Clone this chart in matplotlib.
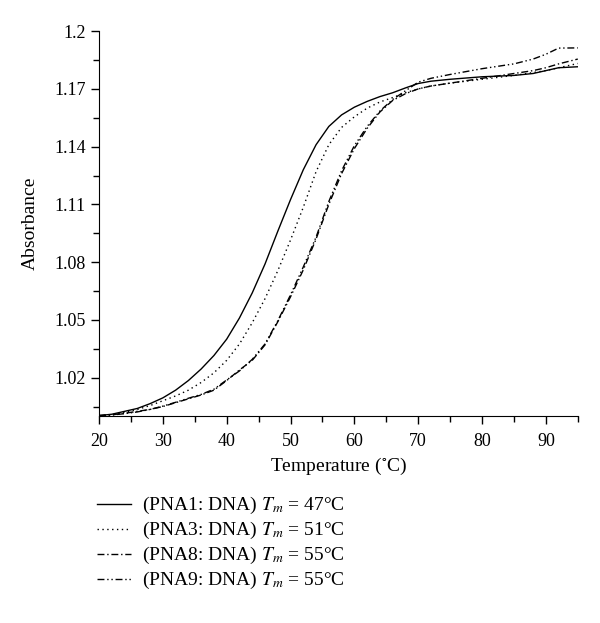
import matplotlib.pyplot as plt
from matplotlib.ticker import MultipleLocator

plt.rcParams['font.family'] = ['Liberation Serif', 'DejaVu Serif']
plt.rcParams['mathtext.fontset'] = 'stix'

# Melting curves
temp = [20, 22, 24, 26, 28, 30, 32, 34, 36, 38, 40, 42, 44, 46, 48, 50, 52, 54,
        56, 58, 60, 62, 64, 66, 68, 70, 72, 75, 80, 85, 88, 90, 92, 95]

pna1 = [1.0003, 1.0010, 1.0025, 1.0040, 1.0065, 1.0095, 1.0135, 1.0185, 1.0245,
        1.0315, 1.0400, 1.0510, 1.0640, 1.0790, 1.0960, 1.1125, 1.1280, 1.1410,
        1.1505, 1.1565, 1.1605, 1.1635, 1.1660, 1.1680, 1.1705, 1.1728, 1.1740,
        1.1750, 1.1763, 1.1770, 1.1780, 1.1795, 1.1810, 1.1815]

pna3 = [1.0003, 1.0008, 1.0020, 1.0035, 1.0055, 1.0080, 1.0105, 1.0135, 1.0175,
        1.0225, 1.0290, 1.0375, 1.0485, 1.0610, 1.0755, 1.0915, 1.1085, 1.1270,
        1.1410, 1.1500, 1.1555, 1.1600, 1.1632, 1.1655, 1.1680, 1.1700, 1.1715,
        1.1730, 1.1750, 1.1770, 1.1785, 1.1795, 1.1810, 1.1832]

pna8 = [1.0003, 1.0007, 1.0015, 1.0025, 1.0035, 1.0050, 1.0070, 1.0090, 1.0110,
        1.0135, 1.0185, 1.0240, 1.0290, 1.0370, 1.0490, 1.0620, 1.0760, 1.0920,
        1.1100, 1.1260, 1.1390, 1.1495, 1.1580, 1.1640, 1.1675, 1.1700, 1.1715,
        1.1730, 1.1755, 1.1780, 1.1795, 1.1810, 1.1830, 1.1855]

pna9 = [1.0003, 1.0006, 1.0013, 1.0022, 1.0035, 1.0052, 1.0072, 1.0093, 1.0113,
        1.0140, 1.0188, 1.0235, 1.0295, 1.0375, 1.0495, 1.0630, 1.0775, 1.0930,
        1.1115, 1.1275, 1.1405, 1.1505, 1.1585, 1.1645, 1.1690, 1.1735, 1.1755,
        1.1775, 1.1805, 1.1830, 1.1855, 1.1880, 1.1912, 1.1913]

labels = ["(PNA1: DNA) $T_m$ = 47°C",
          "(PNA3: DNA) $T_m$ = 51°C",
          "(PNA8: DNA) $T_m$ = 55°C",
          "(PNA9: DNA) $T_m$ = 55°C"]

fig = plt.figure(figsize=(6, 6.23), dpi=100)
ax = fig.add_axes([0.165, 0.332, 0.798, 0.618])

ax.plot(temp, pna1, color="black", lw=1.0, linestyle="-", label=labels[0])
ax.plot(temp, pna3, color="black", lw=1.0, linestyle=(0, (1, 2.5)), label=labels[1])
ax.plot(temp, pna8, color="black", lw=1.0, linestyle=(0, (5, 2, 1, 2)), label=labels[2])
ax.plot(temp, pna9, color="black", lw=1.0, linestyle=(0, (5, 2, 1, 2, 1, 2)), label=labels[3])

ax.set_xlim(20, 95)
ax.set_ylim(1.0, 1.2)
ax.xaxis.set_major_locator(MultipleLocator(10))
ax.xaxis.set_minor_locator(MultipleLocator(5))
ax.set_yticks([1.02, 1.05, 1.08, 1.11, 1.14, 1.17, 1.2])
ax.set_yticklabels(["1.02", "1.05", "1.08", "1.11", "1.14", "1.17", "1.2"])
ax.yaxis.set_minor_locator(MultipleLocator(0.015))

for s in ["top", "right"]:
    ax.spines[s].set_visible(False)
ax.tick_params(which="both", direction="out", labelsize=13, width=1)
ax.tick_params(which="major", length=6)
ax.tick_params(axis="x", which="major", pad=6)
ax.tick_params(which="minor", length=4)

ax.set_xlabel("Temperature ($^{\\circ}$C)", fontsize=14, labelpad=4)
ax.set_ylabel("Absorbance", fontsize=14, labelpad=11)

ax.legend(loc="upper left", bbox_to_anchor=(-0.04, -0.16), frameon=False,
          fontsize=14, handlelength=1.75, handletextpad=0.57, labelspacing=0.2)

plt.savefig("out.png", dpi=100)
